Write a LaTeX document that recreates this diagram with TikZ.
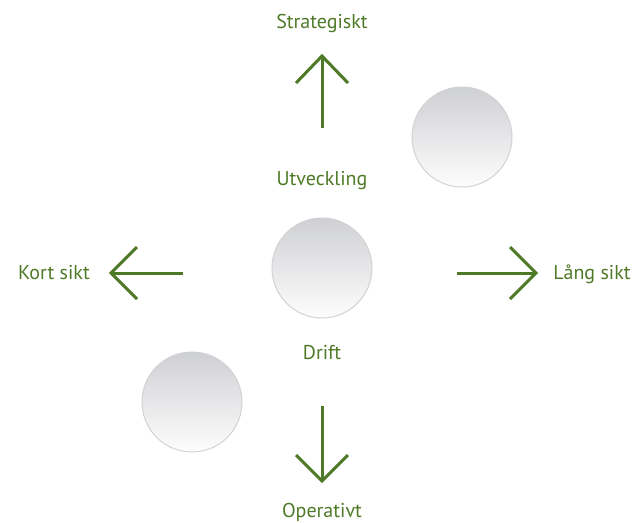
\documentclass[tikz,border=0pt]{standalone}
\usepackage{fontspec}
\setmainfont{PT Sans}
\definecolor{leafgreen}{RGB}{78,122,39}
\definecolor{ballborder}{RGB}{210,210,212}
\definecolor{balltop}{RGB}{207,208,211}
\definecolor{ballbottom}{RGB}{253,253,253}
\begin{document}
\begin{tikzpicture}[x=1pt,y=-1pt,
  lbl/.style={text=leafgreen,font=\fontsize{20}{24}\selectfont,anchor=base,inner sep=0pt},
  ball/.style={circle,minimum size=100pt,inner sep=0pt,draw=ballborder,line width=1pt,top color=balltop,bottom color=ballbottom},
  shaft/.style={draw=leafgreen,line width=3pt},
  head/.style={draw=leafgreen,line width=3pt,line join=miter}]
\useasboundingbox (0,0) rectangle (633,523);
% balls
\node[ball] (bt) at (462,137) {};
\node[ball] (bc) at (322,268) {};
\node[ball] (bb) at (192,402) {};
% labels
\node[lbl] (strat) at (322,28) {Strategiskt};
\node[lbl] (utv) at (322,185) {Utveckling};
\node[lbl] (drift) at (322,359) {Drift};
\node[lbl] (oper) at (322,517) {Operativt};
\node[lbl] (kort) at (54,279) {Kort sikt};
\node[lbl] (lang) at (592,279) {Lång sikt};
% arrow coordinates
\coordinate (uS) at (322,128); \coordinate (uT) at (322,56);
\coordinate (uL) at (296,83); \coordinate (uR) at (348,83);
\coordinate (dS) at (322,406); \coordinate (dT) at (322,481);
\coordinate (dL) at (296,455); \coordinate (dR) at (348,455);
\coordinate (lS) at (183,273); \coordinate (lT) at (111,273);
\coordinate (lU) at (137,247); \coordinate (lD) at (137,299);
\coordinate (rS) at (457,273); \coordinate (rT) at (536,273);
\coordinate (rU) at (510,247); \coordinate (rD) at (510,299);
% arrows
\draw[shaft] (uS) -- (uT);
\draw[head] (uL) -- (uT) -- (uR);
\draw[shaft] (dS) -- (dT);
\draw[head] (dL) -- (dT) -- (dR);
\draw[shaft] (lS) -- (lT);
\draw[head] (lU) -- (lT) -- (lD);
\draw[shaft] (rS) -- (rT);
\draw[head] (rU) -- (rT) -- (rD);
\end{tikzpicture}
\end{document}
